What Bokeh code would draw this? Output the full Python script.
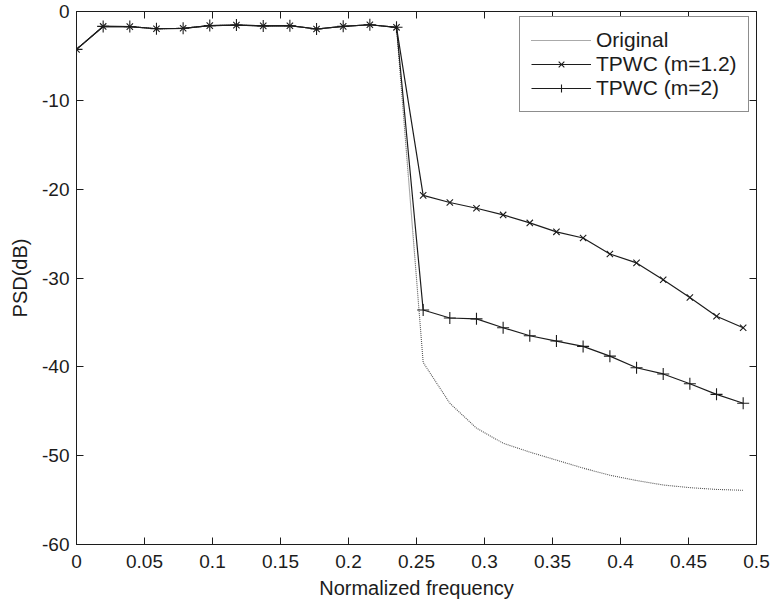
from bokeh.plotting import figure
from bokeh.models import (Range1d, FixedTicker, CustomJSTickFormatter, LinearAxis,
                          Legend, LegendItem)
from bokeh.embed import file_html
from bokeh.resources import INLINE

# ---- data ----
freq = [0.0, 0.0196, 0.0392, 0.0588, 0.0784, 0.0980, 0.1176, 0.1373, 0.1569,
        0.1765, 0.1961, 0.2157, 0.2353, 0.2549, 0.2745, 0.2941, 0.3137, 0.3333,
        0.3529, 0.3725, 0.3922, 0.4118, 0.4314, 0.4510, 0.4706, 0.4902]

passband = [-4.26, -1.68, -1.70, -1.94, -1.89, -1.59, -1.53, -1.62, -1.60,
            -1.97, -1.67, -1.49, -1.78]

original = passband + [-39.5, -44.1, -46.9, -48.6, -49.6, -50.5, -51.4, -52.2,
                       -52.8, -53.3, -53.6, -53.8, -53.9]
tpwc_12 = passband + [-20.7, -21.5, -22.15, -22.9, -23.8, -24.8, -25.5, -27.3,
                      -28.3, -30.2, -32.2, -34.3, -35.6]
tpwc_2 = passband + [-33.6, -34.5, -34.6, -35.6, -36.5, -37.1, -37.7, -38.8,
                     -40.1, -40.8, -41.9, -43.1, -44.1]

x_ticks = [0, 0.05, 0.1, 0.15, 0.2, 0.25, 0.3, 0.35, 0.4, 0.45, 0.5]
y_ticks = [-60, -50, -40, -30, -20, -10, 0]

series_names = ["Original", "TPWC (m=1.2)", "TPWC (m=2)"]

FONT = "Liberation Sans"
INK = "#1c1c1c"

p = figure(width=777, height=601, output_backend="svg", toolbar_location=None,
           x_range=Range1d(0, 0.5), y_range=Range1d(-60, 0),
           min_border_left=76, min_border_right=21, min_border_top=11,
           min_border_bottom=57)
p.background_fill_color = "white"
p.border_fill_color = "white"
p.outline_line_color = INK
p.outline_line_width = 1
p.xgrid.visible = False
p.ygrid.visible = False

fmt = CustomJSTickFormatter(code="return String(Math.round(tick*100)/100);")

for ax, ticks in ((p.xaxis[0], x_ticks), (p.yaxis[0], y_ticks)):
    ax.ticker = FixedTicker(ticks=ticks)
    ax.formatter = fmt
    ax.major_tick_in = 7
    ax.major_tick_out = 0
    ax.minor_tick_line_color = None
    ax.axis_line_color = INK
    ax.major_tick_line_color = INK
    ax.major_label_text_font = FONT
    ax.major_label_text_font_size = "19px"
    ax.major_label_text_color = INK
    ax.axis_label_text_font = FONT
    ax.axis_label_text_font_size = "20px"
    ax.axis_label_text_font_style = "normal"
    ax.axis_label_text_color = INK

p.xaxis.axis_label = "Normalized frequency"
p.yaxis.axis_label = "PSD(dB)"
p.xaxis.major_label_standoff = 10
p.xaxis.axis_label_standoff = 6
p.yaxis.major_label_standoff = 7
p.yaxis.axis_label_standoff = 8

# inward ticks on the top and right edges of the box (labels not painted)
for loc, ticks in (("above", x_ticks), ("right", y_ticks)):
    ax = LinearAxis(ticker=FixedTicker(ticks=ticks), formatter=fmt,
                    major_tick_in=7, major_tick_out=0,
                    minor_tick_line_color=None, axis_line_color=None,
                    major_tick_line_color=INK, major_label_text_color=None,
                    major_label_text_font_size="1px", major_label_standoff=0)
    p.add_layout(ax, loc)

r_orig = p.line(freq, original, line_color="#555555", line_width=1.1, line_dash="1 1")

r_12l = p.line(freq, tpwc_12, line_color=INK, line_width=1.2)
r_12m = p.scatter(freq, tpwc_12, marker="x", size=9, line_color=INK, line_width=1.1)

r_2l = p.line(freq, tpwc_2, line_color=INK, line_width=1.2)
r_2m = p.scatter(freq, tpwc_2, marker="cross", size=12, line_color=INK, line_width=1.1)

legend = Legend(items=[
    LegendItem(label=series_names[0], renderers=[r_orig]),
    LegendItem(label=series_names[1], renderers=[r_12l, r_12m]),
    LegendItem(label=series_names[2], renderers=[r_2l, r_2m]),
], location=(443, 432))
legend.label_text_font = FONT
legend.label_text_font_size = "21px"
legend.label_text_color = INK
legend.glyph_width = 60
legend.glyph_height = 20
legend.label_height = 22
legend.label_standoff = 5
legend.spacing = 0
legend.padding = 11
legend.margin = 0
legend.border_line_color = INK
legend.border_line_width = 1
legend.background_fill_alpha = 1
p.add_layout(legend, "center")

open("out.html", "w").write(file_html(p, INLINE))
